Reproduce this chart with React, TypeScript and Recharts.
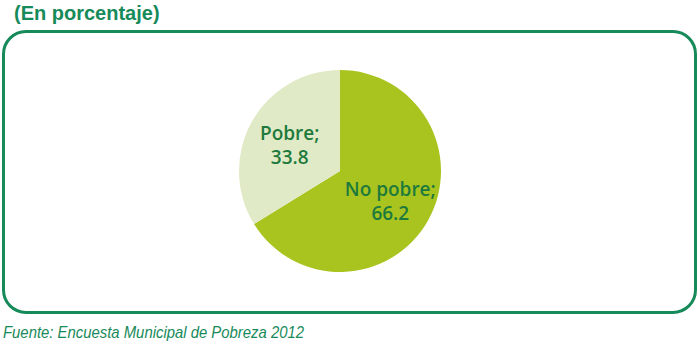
import { Cell, Pie, PieChart } from "recharts";

const categories = ["No pobre", "Pobre"];
const values = [66.2, 33.8];
const colors = ["#a9c41f", "#e1eac6"];

const data = categories.map((name, i) => ({ name, value: values[i] }));

const GREEN = "#178a5a";
const LABEL = "#1d7a3c";
const RADIAN = Math.PI / 180;

function SliceLabel(props: any) {
  const { cx, cy, midAngle, outerRadius, name, value } = props;
  const r = outerRadius * 0.57;
  const x = cx + r * Math.cos(-midAngle * RADIAN);
  const y = cy + r * Math.sin(-midAngle * RADIAN);
  return (
    <text
      x={x}
      y={y}
      textAnchor="middle"
      fill={LABEL}
      fontFamily="'Open Sans', sans-serif"
      fontWeight={600}
      fontSize={19}
    >
      <tspan x={x} y={y - 3}>{name};</tspan>
      <tspan x={x} y={y + 21}>{value.toFixed(1)}</tspan>
    </text>
  );
}

export default function App() {
  return (
    <div
      style={{
        position: "absolute",
        left: 0,
        top: 0,
        width: 700,
        height: 345,
        background: "#fff",
        overflow: "hidden",
        fontFamily: "'Liberation Sans', Arial, sans-serif",
      }}
    >
      <div
        style={{
          position: "absolute",
          left: 14,
          top: 1,
          fontSize: 20,
          fontWeight: 700,
          color: GREEN,
          lineHeight: "24px",
          whiteSpace: "nowrap",
        }}
      >
        (En porcentaje)
      </div>
      <div
        style={{
          position: "absolute",
          left: 2,
          top: 30,
          width: 689,
          height: 278,
          border: `3px solid ${GREEN}`,
          borderRadius: 24,
        }}
      />
      <div style={{ position: "absolute", left: 0, top: 0 }}>
        <PieChart
          width={700}
          height={345}
          margin={{ top: 0, right: 0, bottom: 0, left: 0 }}
        >
          <Pie
            data={data}
            dataKey="value"
            nameKey="name"
            cx={340}
            cy={171}
            outerRadius={101}
            startAngle={90}
            endAngle={-270}
            stroke="none"
            labelLine={false}
            label={SliceLabel}
            isAnimationActive={false}
          >
            {data.map((d, i) => (
              <Cell key={d.name} fill={colors[i]} />
            ))}
          </Pie>
        </PieChart>
      </div>
      <div
        style={{
          position: "absolute",
          left: 3,
          top: 323,
          fontSize: 17,
          fontStyle: "italic",
          color: GREEN,
          lineHeight: "20px",
          whiteSpace: "nowrap",
          transform: "scaleX(0.875)",
          transformOrigin: "left top",
        }}
      >
        Fuente: Encuesta Municipal de Pobreza 2012
      </div>
    </div>
  );
}
